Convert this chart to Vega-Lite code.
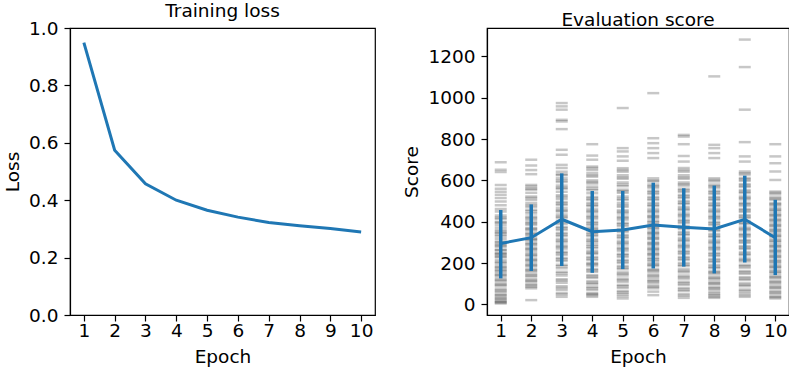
{
  "$schema": "https://vega.github.io/schema/vega-lite/v6.json",
  "background": "white",
  "padding": {"left": 2, "top": 0, "right": 2, "bottom": 0},
  "spacing": 26,
  "datasets": {
    "loss": [
      {"epoch": 1, "loss": 0.949}, {"epoch": 2, "loss": 0.574}, {"epoch": 3, "loss": 0.457},
      {"epoch": 4, "loss": 0.400}, {"epoch": 5, "loss": 0.365}, {"epoch": 6, "loss": 0.341},
      {"epoch": 7, "loss": 0.322}, {"epoch": 8, "loss": 0.311}, {"epoch": 9, "loss": 0.301},
      {"epoch": 10, "loss": 0.289}
    ],
    "summary": [
      {"epoch": 1, "mean": 295, "lo": 126, "hi": 457},
      {"epoch": 2, "mean": 323, "lo": 162, "hi": 484},
      {"epoch": 3, "mean": 412, "lo": 186, "hi": 634},
      {"epoch": 4, "mean": 352, "lo": 153, "hi": 549},
      {"epoch": 5, "mean": 360, "lo": 171, "hi": 549},
      {"epoch": 6, "mean": 384, "lo": 174, "hi": 589},
      {"epoch": 7, "mean": 373, "lo": 183, "hi": 562},
      {"epoch": 8, "mean": 365, "lo": 150, "hi": 575},
      {"epoch": 9, "mean": 412, "lo": 203, "hi": 623},
      {"epoch": 10, "mean": 323, "lo": 142, "hi": 506}
    ],
    "scores": [
      {"epoch":1,"score":688},{"epoch":1,"score":651},{"epoch":1,"score":640},{"epoch":1,"score":578},{"epoch":1,"score":560},{"epoch":1,"score":545},{"epoch":1,"score":530},{"epoch":1,"score":515},{"epoch":1,"score":498},{"epoch":1,"score":480},{"epoch":1,"score":462},{"epoch":1,"score":450},{"epoch":1,"score":430},{"epoch":1,"score":415},{"epoch":1,"score":400},{"epoch":1,"score":385},{"epoch":1,"score":372},{"epoch":1,"score":360},{"epoch":1,"score":345},{"epoch":1,"score":330},{"epoch":1,"score":318},{"epoch":1,"score":305},{"epoch":1,"score":290},{"epoch":1,"score":278},{"epoch":1,"score":265},{"epoch":1,"score":250},{"epoch":1,"score":240},{"epoch":1,"score":228},{"epoch":1,"score":215},{"epoch":1,"score":200},{"epoch":1,"score":188},{"epoch":1,"score":175},{"epoch":1,"score":160},{"epoch":1,"score":150},{"epoch":1,"score":138},{"epoch":1,"score":125},{"epoch":1,"score":112},{"epoch":1,"score":100},{"epoch":1,"score":88},{"epoch":1,"score":75},{"epoch":1,"score":62},{"epoch":1,"score":50},{"epoch":1,"score":38},{"epoch":1,"score":25},{"epoch":1,"score":12},{"epoch":1,"score":5},
      {"epoch":1,"score":420},{"epoch":1,"score":395},{"epoch":1,"score":352},{"epoch":1,"score":338},{"epoch":1,"score":300},{"epoch":1,"score":285},{"epoch":1,"score":262},{"epoch":1,"score":245},{"epoch":1,"score":232},{"epoch":1,"score":205},{"epoch":1,"score":180},{"epoch":1,"score":165},{"epoch":1,"score":142},{"epoch":1,"score":118},{"epoch":1,"score":95},{"epoch":1,"score":68},{"epoch":1,"score":45},{"epoch":1,"score":30},{"epoch":1,"score":18},{"epoch":1,"score":10},
      {"epoch":2,"score":700},{"epoch":2,"score":672},{"epoch":2,"score":650},{"epoch":2,"score":630},{"epoch":2,"score":578},{"epoch":2,"score":570},{"epoch":2,"score":555},{"epoch":2,"score":540},{"epoch":2,"score":522},{"epoch":2,"score":505},{"epoch":2,"score":490},{"epoch":2,"score":472},{"epoch":2,"score":458},{"epoch":2,"score":440},{"epoch":2,"score":425},{"epoch":2,"score":410},{"epoch":2,"score":398},{"epoch":2,"score":385},{"epoch":2,"score":370},{"epoch":2,"score":358},{"epoch":2,"score":345},{"epoch":2,"score":332},{"epoch":2,"score":320},{"epoch":2,"score":310},{"epoch":2,"score":298},{"epoch":2,"score":285},{"epoch":2,"score":272},{"epoch":2,"score":260},{"epoch":2,"score":248},{"epoch":2,"score":235},{"epoch":2,"score":222},{"epoch":2,"score":210},{"epoch":2,"score":198},{"epoch":2,"score":185},{"epoch":2,"score":172},{"epoch":2,"score":160},{"epoch":2,"score":148},{"epoch":2,"score":135},{"epoch":2,"score":122},{"epoch":2,"score":110},{"epoch":2,"score":98},{"epoch":2,"score":85},{"epoch":2,"score":78},{"epoch":2,"score":21},
      {"epoch":2,"score":560},{"epoch":2,"score":515},{"epoch":2,"score":480},{"epoch":2,"score":450},{"epoch":2,"score":418},{"epoch":2,"score":392},{"epoch":2,"score":365},{"epoch":2,"score":340},{"epoch":2,"score":315},{"epoch":2,"score":292},{"epoch":2,"score":268},{"epoch":2,"score":240},{"epoch":2,"score":215},{"epoch":2,"score":190},{"epoch":2,"score":165},{"epoch":2,"score":140},{"epoch":2,"score":115},{"epoch":2,"score":92},
      {"epoch":3,"score":974},{"epoch":3,"score":958},{"epoch":3,"score":942},{"epoch":3,"score":893},{"epoch":3,"score":885},{"epoch":3,"score":848},{"epoch":3,"score":748},{"epoch":3,"score":724},{"epoch":3,"score":675},{"epoch":3,"score":660},{"epoch":3,"score":642},{"epoch":3,"score":625},{"epoch":3,"score":610},{"epoch":3,"score":592},{"epoch":3,"score":575},{"epoch":3,"score":560},{"epoch":3,"score":545},{"epoch":3,"score":528},{"epoch":3,"score":510},{"epoch":3,"score":495},{"epoch":3,"score":480},{"epoch":3,"score":465},{"epoch":3,"score":450},{"epoch":3,"score":435},{"epoch":3,"score":420},{"epoch":3,"score":405},{"epoch":3,"score":390},{"epoch":3,"score":375},{"epoch":3,"score":360},{"epoch":3,"score":345},{"epoch":3,"score":330},{"epoch":3,"score":315},{"epoch":3,"score":300},{"epoch":3,"score":285},{"epoch":3,"score":270},{"epoch":3,"score":255},{"epoch":3,"score":240},{"epoch":3,"score":225},{"epoch":3,"score":210},{"epoch":3,"score":192},{"epoch":3,"score":175},{"epoch":3,"score":158},{"epoch":3,"score":140},{"epoch":3,"score":122},{"epoch":3,"score":105},{"epoch":3,"score":88},{"epoch":3,"score":70},{"epoch":3,"score":55},{"epoch":3,"score":37},
      {"epoch":3,"score":630},{"epoch":3,"score":600},{"epoch":3,"score":565},{"epoch":3,"score":520},{"epoch":3,"score":488},{"epoch":3,"score":455},{"epoch":3,"score":425},{"epoch":3,"score":398},{"epoch":3,"score":368},{"epoch":3,"score":338},{"epoch":3,"score":308},{"epoch":3,"score":278},{"epoch":3,"score":248},{"epoch":3,"score":218},{"epoch":3,"score":185},{"epoch":3,"score":150},{"epoch":3,"score":115},{"epoch":3,"score":80},{"epoch":3,"score":48},
      {"epoch":4,"score":775},{"epoch":4,"score":720},{"epoch":4,"score":700},{"epoch":4,"score":667},{"epoch":4,"score":650},{"epoch":4,"score":635},{"epoch":4,"score":618},{"epoch":4,"score":600},{"epoch":4,"score":585},{"epoch":4,"score":570},{"epoch":4,"score":552},{"epoch":4,"score":538},{"epoch":4,"score":520},{"epoch":4,"score":505},{"epoch":4,"score":490},{"epoch":4,"score":475},{"epoch":4,"score":460},{"epoch":4,"score":445},{"epoch":4,"score":430},{"epoch":4,"score":415},{"epoch":4,"score":400},{"epoch":4,"score":385},{"epoch":4,"score":372},{"epoch":4,"score":358},{"epoch":4,"score":345},{"epoch":4,"score":330},{"epoch":4,"score":315},{"epoch":4,"score":300},{"epoch":4,"score":288},{"epoch":4,"score":272},{"epoch":4,"score":258},{"epoch":4,"score":245},{"epoch":4,"score":230},{"epoch":4,"score":215},{"epoch":4,"score":200},{"epoch":4,"score":188},{"epoch":4,"score":172},{"epoch":4,"score":158},{"epoch":4,"score":142},{"epoch":4,"score":128},{"epoch":4,"score":112},{"epoch":4,"score":98},{"epoch":4,"score":85},{"epoch":4,"score":70},{"epoch":4,"score":55},{"epoch":4,"score":45},{"epoch":4,"score":37},
      {"epoch":4,"score":660},{"epoch":4,"score":625},{"epoch":4,"score":592},{"epoch":4,"score":560},{"epoch":4,"score":512},{"epoch":4,"score":482},{"epoch":4,"score":452},{"epoch":4,"score":422},{"epoch":4,"score":392},{"epoch":4,"score":365},{"epoch":4,"score":338},{"epoch":4,"score":308},{"epoch":4,"score":280},{"epoch":4,"score":250},{"epoch":4,"score":222},{"epoch":4,"score":195},{"epoch":4,"score":165},{"epoch":4,"score":135},{"epoch":4,"score":105},{"epoch":4,"score":78},{"epoch":4,"score":50},
      {"epoch":5,"score":950},{"epoch":5,"score":756},{"epoch":5,"score":740},{"epoch":5,"score":716},{"epoch":5,"score":695},{"epoch":5,"score":659},{"epoch":5,"score":642},{"epoch":5,"score":625},{"epoch":5,"score":608},{"epoch":5,"score":590},{"epoch":5,"score":572},{"epoch":5,"score":555},{"epoch":5,"score":540},{"epoch":5,"score":522},{"epoch":5,"score":505},{"epoch":5,"score":490},{"epoch":5,"score":472},{"epoch":5,"score":455},{"epoch":5,"score":440},{"epoch":5,"score":425},{"epoch":5,"score":410},{"epoch":5,"score":395},{"epoch":5,"score":380},{"epoch":5,"score":365},{"epoch":5,"score":350},{"epoch":5,"score":335},{"epoch":5,"score":320},{"epoch":5,"score":305},{"epoch":5,"score":290},{"epoch":5,"score":275},{"epoch":5,"score":260},{"epoch":5,"score":245},{"epoch":5,"score":230},{"epoch":5,"score":215},{"epoch":5,"score":200},{"epoch":5,"score":185},{"epoch":5,"score":170},{"epoch":5,"score":155},{"epoch":5,"score":140},{"epoch":5,"score":125},{"epoch":5,"score":110},{"epoch":5,"score":95},{"epoch":5,"score":80},{"epoch":5,"score":65},{"epoch":5,"score":50},{"epoch":5,"score":40},{"epoch":5,"score":29},
      {"epoch":5,"score":650},{"epoch":5,"score":615},{"epoch":5,"score":580},{"epoch":5,"score":548},{"epoch":5,"score":512},{"epoch":5,"score":480},{"epoch":5,"score":448},{"epoch":5,"score":418},{"epoch":5,"score":388},{"epoch":5,"score":358},{"epoch":5,"score":328},{"epoch":5,"score":298},{"epoch":5,"score":268},{"epoch":5,"score":238},{"epoch":5,"score":208},{"epoch":5,"score":178},{"epoch":5,"score":148},{"epoch":5,"score":118},{"epoch":5,"score":88},{"epoch":5,"score":58},
      {"epoch":6,"score":1022},{"epoch":6,"score":804},{"epoch":6,"score":780},{"epoch":6,"score":756},{"epoch":6,"score":732},{"epoch":6,"score":708},{"epoch":6,"score":610},{"epoch":6,"score":595},{"epoch":6,"score":580},{"epoch":6,"score":565},{"epoch":6,"score":550},{"epoch":6,"score":535},{"epoch":6,"score":520},{"epoch":6,"score":505},{"epoch":6,"score":490},{"epoch":6,"score":475},{"epoch":6,"score":460},{"epoch":6,"score":445},{"epoch":6,"score":430},{"epoch":6,"score":418},{"epoch":6,"score":405},{"epoch":6,"score":390},{"epoch":6,"score":378},{"epoch":6,"score":365},{"epoch":6,"score":352},{"epoch":6,"score":340},{"epoch":6,"score":328},{"epoch":6,"score":315},{"epoch":6,"score":300},{"epoch":6,"score":288},{"epoch":6,"score":275},{"epoch":6,"score":262},{"epoch":6,"score":250},{"epoch":6,"score":238},{"epoch":6,"score":225},{"epoch":6,"score":210},{"epoch":6,"score":198},{"epoch":6,"score":185},{"epoch":6,"score":170},{"epoch":6,"score":158},{"epoch":6,"score":145},{"epoch":6,"score":130},{"epoch":6,"score":118},{"epoch":6,"score":105},{"epoch":6,"score":92},{"epoch":6,"score":78},{"epoch":6,"score":62},{"epoch":6,"score":45},
      {"epoch":6,"score":600},{"epoch":6,"score":572},{"epoch":6,"score":542},{"epoch":6,"score":512},{"epoch":6,"score":482},{"epoch":6,"score":452},{"epoch":6,"score":425},{"epoch":6,"score":398},{"epoch":6,"score":372},{"epoch":6,"score":345},{"epoch":6,"score":320},{"epoch":6,"score":295},{"epoch":6,"score":268},{"epoch":6,"score":243},{"epoch":6,"score":218},{"epoch":6,"score":192},{"epoch":6,"score":165},{"epoch":6,"score":138},{"epoch":6,"score":112},{"epoch":6,"score":85},
      {"epoch":7,"score":820},{"epoch":7,"score":812},{"epoch":7,"score":775},{"epoch":7,"score":718},{"epoch":7,"score":691},{"epoch":7,"score":660},{"epoch":7,"score":642},{"epoch":7,"score":625},{"epoch":7,"score":608},{"epoch":7,"score":590},{"epoch":7,"score":575},{"epoch":7,"score":560},{"epoch":7,"score":545},{"epoch":7,"score":530},{"epoch":7,"score":515},{"epoch":7,"score":500},{"epoch":7,"score":485},{"epoch":7,"score":470},{"epoch":7,"score":455},{"epoch":7,"score":440},{"epoch":7,"score":425},{"epoch":7,"score":410},{"epoch":7,"score":395},{"epoch":7,"score":380},{"epoch":7,"score":365},{"epoch":7,"score":350},{"epoch":7,"score":335},{"epoch":7,"score":320},{"epoch":7,"score":305},{"epoch":7,"score":290},{"epoch":7,"score":275},{"epoch":7,"score":260},{"epoch":7,"score":245},{"epoch":7,"score":230},{"epoch":7,"score":215},{"epoch":7,"score":200},{"epoch":7,"score":185},{"epoch":7,"score":170},{"epoch":7,"score":155},{"epoch":7,"score":140},{"epoch":7,"score":125},{"epoch":7,"score":110},{"epoch":7,"score":95},{"epoch":7,"score":80},{"epoch":7,"score":65},{"epoch":7,"score":50},{"epoch":7,"score":32},
      {"epoch":7,"score":650},{"epoch":7,"score":615},{"epoch":7,"score":582},{"epoch":7,"score":552},{"epoch":7,"score":522},{"epoch":7,"score":492},{"epoch":7,"score":462},{"epoch":7,"score":432},{"epoch":7,"score":402},{"epoch":7,"score":372},{"epoch":7,"score":342},{"epoch":7,"score":312},{"epoch":7,"score":282},{"epoch":7,"score":252},{"epoch":7,"score":222},{"epoch":7,"score":192},{"epoch":7,"score":162},{"epoch":7,"score":132},{"epoch":7,"score":102},{"epoch":7,"score":72},{"epoch":7,"score":42},
      {"epoch":8,"score":1103},{"epoch":8,"score":772},{"epoch":8,"score":756},{"epoch":8,"score":732},{"epoch":8,"score":708},{"epoch":8,"score":610},{"epoch":8,"score":595},{"epoch":8,"score":580},{"epoch":8,"score":565},{"epoch":8,"score":550},{"epoch":8,"score":535},{"epoch":8,"score":520},{"epoch":8,"score":505},{"epoch":8,"score":490},{"epoch":8,"score":475},{"epoch":8,"score":460},{"epoch":8,"score":445},{"epoch":8,"score":430},{"epoch":8,"score":415},{"epoch":8,"score":400},{"epoch":8,"score":385},{"epoch":8,"score":370},{"epoch":8,"score":355},{"epoch":8,"score":340},{"epoch":8,"score":325},{"epoch":8,"score":310},{"epoch":8,"score":295},{"epoch":8,"score":280},{"epoch":8,"score":265},{"epoch":8,"score":250},{"epoch":8,"score":235},{"epoch":8,"score":220},{"epoch":8,"score":205},{"epoch":8,"score":190},{"epoch":8,"score":175},{"epoch":8,"score":160},{"epoch":8,"score":148},{"epoch":8,"score":135},{"epoch":8,"score":122},{"epoch":8,"score":110},{"epoch":8,"score":98},{"epoch":8,"score":85},{"epoch":8,"score":72},{"epoch":8,"score":60},{"epoch":8,"score":45},{"epoch":8,"score":32},
      {"epoch":8,"score":602},{"epoch":8,"score":572},{"epoch":8,"score":542},{"epoch":8,"score":512},{"epoch":8,"score":482},{"epoch":8,"score":452},{"epoch":8,"score":422},{"epoch":8,"score":392},{"epoch":8,"score":362},{"epoch":8,"score":332},{"epoch":8,"score":302},{"epoch":8,"score":272},{"epoch":8,"score":242},{"epoch":8,"score":212},{"epoch":8,"score":182},{"epoch":8,"score":155},{"epoch":8,"score":128},{"epoch":8,"score":102},{"epoch":8,"score":78},{"epoch":8,"score":52},{"epoch":8,"score":38},
      {"epoch":9,"score":1281},{"epoch":9,"score":1148},{"epoch":9,"score":942},{"epoch":9,"score":785},{"epoch":9,"score":716},{"epoch":9,"score":691},{"epoch":9,"score":643},{"epoch":9,"score":628},{"epoch":9,"score":612},{"epoch":9,"score":598},{"epoch":9,"score":582},{"epoch":9,"score":568},{"epoch":9,"score":552},{"epoch":9,"score":538},{"epoch":9,"score":522},{"epoch":9,"score":508},{"epoch":9,"score":492},{"epoch":9,"score":478},{"epoch":9,"score":462},{"epoch":9,"score":448},{"epoch":9,"score":432},{"epoch":9,"score":418},{"epoch":9,"score":402},{"epoch":9,"score":388},{"epoch":9,"score":372},{"epoch":9,"score":358},{"epoch":9,"score":342},{"epoch":9,"score":328},{"epoch":9,"score":312},{"epoch":9,"score":298},{"epoch":9,"score":282},{"epoch":9,"score":268},{"epoch":9,"score":252},{"epoch":9,"score":238},{"epoch":9,"score":222},{"epoch":9,"score":208},{"epoch":9,"score":192},{"epoch":9,"score":178},{"epoch":9,"score":162},{"epoch":9,"score":148},{"epoch":9,"score":132},{"epoch":9,"score":118},{"epoch":9,"score":102},{"epoch":9,"score":88},{"epoch":9,"score":72},{"epoch":9,"score":55},{"epoch":9,"score":37},
      {"epoch":9,"score":635},{"epoch":9,"score":605},{"epoch":9,"score":575},{"epoch":9,"score":545},{"epoch":9,"score":515},{"epoch":9,"score":485},{"epoch":9,"score":455},{"epoch":9,"score":425},{"epoch":9,"score":395},{"epoch":9,"score":365},{"epoch":9,"score":335},{"epoch":9,"score":305},{"epoch":9,"score":275},{"epoch":9,"score":245},{"epoch":9,"score":215},{"epoch":9,"score":185},{"epoch":9,"score":155},{"epoch":9,"score":125},{"epoch":9,"score":95},{"epoch":9,"score":65},{"epoch":9,"score":45},
      {"epoch":10,"score":775},{"epoch":10,"score":716},{"epoch":10,"score":683},{"epoch":10,"score":643},{"epoch":10,"score":602},{"epoch":10,"score":546},{"epoch":10,"score":532},{"epoch":10,"score":518},{"epoch":10,"score":505},{"epoch":10,"score":490},{"epoch":10,"score":478},{"epoch":10,"score":465},{"epoch":10,"score":452},{"epoch":10,"score":440},{"epoch":10,"score":428},{"epoch":10,"score":415},{"epoch":10,"score":402},{"epoch":10,"score":390},{"epoch":10,"score":378},{"epoch":10,"score":365},{"epoch":10,"score":352},{"epoch":10,"score":340},{"epoch":10,"score":328},{"epoch":10,"score":315},{"epoch":10,"score":302},{"epoch":10,"score":290},{"epoch":10,"score":278},{"epoch":10,"score":265},{"epoch":10,"score":252},{"epoch":10,"score":240},{"epoch":10,"score":228},{"epoch":10,"score":215},{"epoch":10,"score":202},{"epoch":10,"score":190},{"epoch":10,"score":178},{"epoch":10,"score":165},{"epoch":10,"score":152},{"epoch":10,"score":140},{"epoch":10,"score":128},{"epoch":10,"score":115},{"epoch":10,"score":102},{"epoch":10,"score":90},{"epoch":10,"score":78},{"epoch":10,"score":65},{"epoch":10,"score":52},{"epoch":10,"score":40},{"epoch":10,"score":29},
      {"epoch":10,"score":540},{"epoch":10,"score":512},{"epoch":10,"score":485},{"epoch":10,"score":458},{"epoch":10,"score":432},{"epoch":10,"score":408},{"epoch":10,"score":382},{"epoch":10,"score":358},{"epoch":10,"score":332},{"epoch":10,"score":308},{"epoch":10,"score":282},{"epoch":10,"score":258},{"epoch":10,"score":232},{"epoch":10,"score":208},{"epoch":10,"score":182},{"epoch":10,"score":158},{"epoch":10,"score":132},{"epoch":10,"score":108},{"epoch":10,"score":82},{"epoch":10,"score":58},{"epoch":10,"score":35}
    ]
  },
  "hconcat": [
    {
      "width": 305,
      "height": 287,
      "title": {"text": "Training loss", "offset": -1},
      "data": {"name": "loss"},
      "mark": {"type": "line", "color": "#1f77b4", "strokeWidth": 3},
      "encoding": {
        "x": {"field": "epoch", "type": "quantitative", "scale": {"domain": [0.55, 10.45], "nice": false, "zero": false}, "axis": {"values": [1,2,3,4,5,6,7,8,9,10], "format": "d", "title": "Epoch", "labelPadding": 0, "titlePadding": 8}},
        "y": {"field": "loss", "type": "quantitative", "scale": {"domain": [0, 1], "nice": false}, "axis": {"values": [0,0.2,0.4,0.6,0.8,1.0], "format": ".1f", "title": "Loss"}}
      }
    },
    {
      "width": 302,
      "height": 287,
      "title": {"text": "Evaluation score", "offset": -1},
      "layer": [
        {
          "data": {"name": "scores"},
          "mark": {"type": "tick", "orient": "horizontal", "color": "black", "opacity": 0.22, "size": 12, "thickness": 2.5},
          "encoding": {
            "x": {"field": "epoch", "type": "quantitative", "scale": {"domain": [0.55, 10.45], "nice": false, "zero": false}, "axis": {"values": [1,2,3,4,5,6,7,8,9,10], "format": "d", "title": "Epoch", "labelPadding": 0, "titlePadding": 8}},
            "y": {"field": "score", "type": "quantitative", "scale": {"domain": [-51, 1337], "nice": false, "zero": false}, "axis": {"values": [0,200,400,600,800,1000,1200], "format": "d", "title": "Score"}}
          }
        },
        {
          "data": {"name": "summary"},
          "mark": {"type": "line", "color": "#1f77b4", "strokeWidth": 3},
          "encoding": {
            "x": {"field": "epoch", "type": "quantitative", "axis": {"values": [1,2,3,4,5,6,7,8,9,10], "format": "d", "title": "Epoch", "labelPadding": 0, "titlePadding": 8}},
            "y": {"field": "mean", "type": "quantitative", "axis": {"values": [0,200,400,600,800,1000,1200], "format": "d", "title": "Score"}}
          }
        },
        {
          "data": {"name": "summary"},
          "mark": {"type": "rule", "color": "#1f77b4", "strokeWidth": 3.5},
          "encoding": {
            "x": {"field": "epoch", "type": "quantitative", "axis": {"values": [1,2,3,4,5,6,7,8,9,10], "format": "d", "title": "Epoch", "labelPadding": 0, "titlePadding": 8}},
            "y": {"field": "lo", "type": "quantitative", "axis": {"values": [0,200,400,600,800,1000,1200], "format": "d", "title": "Score"}},
            "y2": {"field": "hi"}
          }
        }
      ]
    }
  ],
  "config": {
    "font": "DejaVu Sans",
    "view": {"stroke": "black", "strokeWidth": 1.2},
    "axis": {"grid": false, "labelFont": "DejaVu Sans", "titleFont": "DejaVu Sans", "labelFontSize": 18.5, "titleFontSize": 18.5, "titleFontWeight": "normal", "labelColor": "black", "titleColor": "black", "tickColor": "black", "domainColor": "black", "tickSize": 6, "tickWidth": 1.2, "domainWidth": 1.2, "labelPadding": 6, "titlePadding": 6},
    "title": {"font": "DejaVu Sans", "fontSize": 18.5, "fontWeight": "normal", "color": "black"}
  }
}
